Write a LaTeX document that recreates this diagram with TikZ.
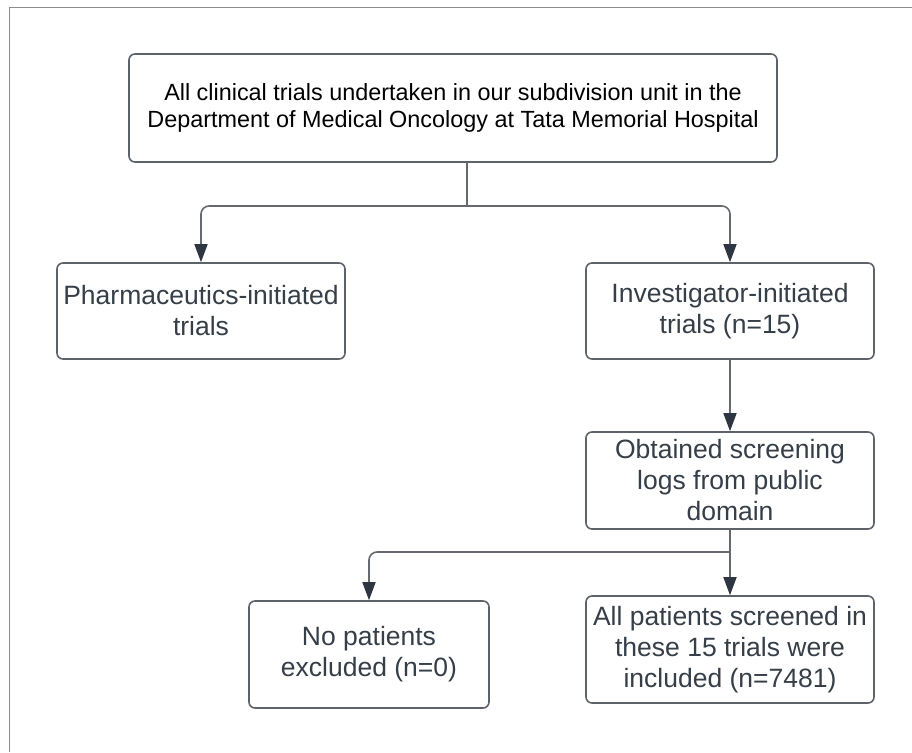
\documentclass[tikz,border=0pt]{standalone}
\usepackage{fontspec}
\setmainfont{Liberation Sans}
\usetikzlibrary{arrows.meta}
\definecolor{boxline}{HTML}{5E636A}
\definecolor{connline}{HTML}{666A70}
\definecolor{tipcol}{HTML}{2E3641}
\definecolor{txt}{HTML}{363E48}
\definecolor{framecol}{HTML}{8C8C8C}
\begin{document}
\begin{tikzpicture}[x=1pt,y=-1pt,
  box/.style={draw=boxline, line width=1.6pt, rounded corners=6pt, inner sep=0pt, align=center, text=txt, font=\fontsize{26.5}{31}\selectfont},
  conn/.style={draw=connline, line width=1.6pt},
  arr/.style={conn, -{Triangle[length=18pt,width=13pt,color=tipcol]}}]
\useasboundingbox (0,0) rectangle (912,752);
\fill[white] (0,0) rectangle (912,752);
\draw[framecol, line width=1.5pt] (912,7.5) -- (9.5,7.5) -- (9.5,752);

\node[box, font=\fontsize{23.4}{27.3}\selectfont, text=black, minimum width=648pt, minimum height=108pt] (top) at (453,108)
  {All clinical trials undertaken in our subdivision unit in the\\Department of Medical Oncology at Tata Memorial Hospital};
\node[box, minimum width=288pt, minimum height=96pt] (pharma) at (201,311) {Pharmaceutics-initiated\\trials};
\node[box, minimum width=288pt, minimum height=96pt] (invest) at (730,311) {Investigator-initiated\\trials (n=15)};
\node[box, minimum width=288pt, minimum height=97pt] (obtained) at (730,480.5) {Obtained screening\\logs from public\\domain};
\node[box, minimum width=240pt, minimum height=107pt] (nopat) at (369,654.5) {No patients\\excluded (n=0)};
\node[box, minimum width=288pt, minimum height=107pt] (allpat) at (730,649.5) {All patients screened in\\these 15 trials were\\included (n=7481)};

\coordinate (j1) at (467,206);
\coordinate (j2) at (730,552);
\draw[conn] (top.south -| j1) -- (j1);
\draw[arr, rounded corners=8pt] (j1) -| (pharma.north);
\draw[arr, rounded corners=8pt] (j1) -| (invest.north);
\draw[arr] (invest.south) -- (obtained.north);
\draw[arr] (obtained.south) -- (allpat.north);
\draw[arr, rounded corners=8pt] (j2) -| (nopat.north);
\end{tikzpicture}
\end{document}
